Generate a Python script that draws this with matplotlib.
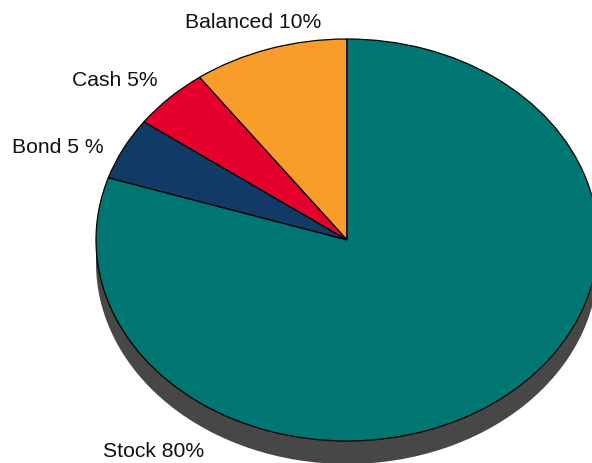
import matplotlib
matplotlib.use("Agg")
import matplotlib.pyplot as plt
from matplotlib.patches import Ellipse, Rectangle

# Portfolio allocation
categories = ["Balanced", "Cash", "Bond", "Stock"]
shares = [10, 5, 5, 80]
labels = ["Balanced 10%", "Cash 5%", "Bond 5 %", "Stock 80%"]
colors = ["#F99D2A", "#E5002B", "#123A66", "#007673"]
side_color = "#474747"

W, H = 592, 463
CX, CY = 347, 240      # pie centre in pixels
RX, RY = 251, 201      # horizontal / vertical radii in pixels
DEPTH = 23             # thickness of the side wall in pixels

def to_data(px, py):
    return (px - CX) / RX, (CY - py) / RY

plt.rcParams["font.family"] = ["Liberation Sans", "DejaVu Sans"]

fig = plt.figure(figsize=(W / 100, H / 100), dpi=100)
ax = fig.add_axes([0, 0, 1, 1])

d = DEPTH / RY
# side wall of the tilted disc
ax.add_patch(Ellipse((0, -d), 2, 2, facecolor=side_color, edgecolor="none", zorder=0))
ax.add_patch(Rectangle((-1, -d), 2, d, facecolor=side_color, edgecolor="none", zorder=0))

wedges, _ = ax.pie(shares, colors=colors, startangle=90, counterclock=True,
                   radius=1, center=(0, 0),
                   wedgeprops=dict(edgecolor="black", linewidth=0.9))
for w in wedges:
    w.set_zorder(2)

# label anchors (left edge, baseline) in pixels
label_pos = [(185, 28), (72, 86), (12, 153), (103, 457)]
for text, (px, py) in zip(labels, label_pos):
    x, y = to_data(px, py)
    ax.text(x, y, text, ha="left", va="baseline", fontsize=15.2, color="#111111", zorder=3)

ax.set_aspect("auto")
ax.set_xlim(to_data(0, 0)[0], to_data(W, 0)[0])
ax.set_ylim(to_data(0, H)[1], to_data(0, 0)[1])
ax.axis("off")

fig.savefig("out.png", dpi=100, facecolor="white")
